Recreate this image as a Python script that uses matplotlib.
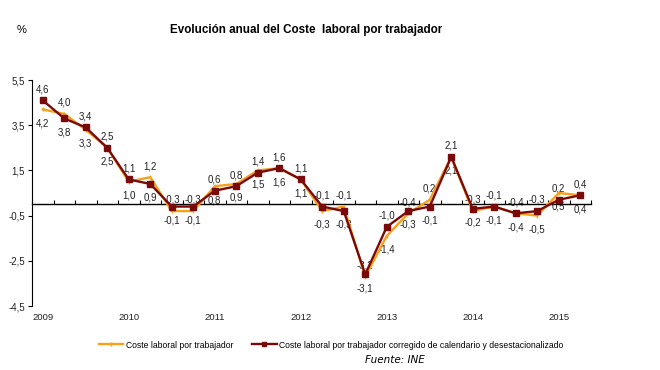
import matplotlib
matplotlib.use("Agg")
import numpy as np
import matplotlib.pyplot as plt

plt.rcParams["font.family"] = ["Liberation Sans", "DejaVu Sans"]

# quarterly annual rates, 2009T1 .. 2015T2
years = ["2009", "2010", "2011", "2012", "2013", "2014", "2015"]
coste_trabajador = [4.2, 4.0, 3.3, 2.5, 1.0, 1.2, -0.3, -0.3, 0.8, 0.9, 1.5, 1.6, 1.1,
                    -0.3, -0.1, -3.2, -1.4, -0.4, 0.2, 2.1, -0.3, -0.1, -0.4, -0.5, 0.5, 0.4]
coste_corregido = [4.6, 3.8, 3.4, 2.5, 1.1, 0.9, -0.1, -0.1, 0.6, 0.8, 1.4, 1.6, 1.1,
                   -0.1, -0.3, -3.1, -1.0, -0.3, -0.1, 2.1, -0.2, -0.1, -0.4, -0.3, 0.2, 0.4]
# +1 label above the orange point, -1 below (the dark series gets the opposite side)
lado_etiqueta = [-1, 1, -1, -1, -1, 1, 1, 1, -1, -1, -1, -1, -1,
                 -1, 1, 1, -1, 1, 1, -1, 1, 1, 1, -1, -1, -1]
yticks = [5.5, 3.5, 1.5, -0.5, -2.5, -4.5]

NARANJA = "#F7A11A"
GRANATE = "#7A0A0A"

fig = plt.figure(figsize=(6.6, 3.7), dpi=100)
ax = fig.add_axes([32 / 660, 1 - 306 / 370, 559 / 660, 226 / 370])

x = np.arange(len(coste_trabajador))
l1, = ax.plot(x, coste_trabajador, color=NARANJA, lw=1.7, marker="|", ms=3,
              mew=1, zorder=3, label="Coste laboral por trabajador")
l2, = ax.plot(x, coste_corregido, color=GRANATE, lw=1.7, marker="s", ms=4,
              zorder=4,
              label="Coste laboral por trabajador corregido de calendario y desestacionalizado")

def fmt(v):
    return f"{v:.1f}".replace(".", ",")

for i in x:
    s = lado_etiqueta[i]
    for v, side in ((coste_trabajador[i], s), (coste_corregido[i], -s)):
        off = 8 if side > 0 else -10
        ax.annotate(fmt(v), (i, v), xytext=(0, off), textcoords="offset points",
                    ha="center", va="center", fontsize=7, color="#222222", zorder=2)

ax.set_xlim(-0.5, len(x) - 0.5)
ax.set_ylim(-4.5, 5.5)
ax.set_yticks(yticks)
ax.set_yticklabels([fmt(t) for t in yticks], fontsize=7, color="#222222")
ax.tick_params(axis="y", length=3, width=0.8, pad=2)

# x axis sits on zero, small inward ticks between quarters
ax.spines["bottom"].set_position(("data", 0))
ax.spines["bottom"].set_linewidth(1.0)
ax.spines["left"].set_linewidth(0.8)
ax.spines["top"].set_visible(False)
ax.spines["right"].set_visible(False)
ax.set_xticks(np.arange(-0.5, len(x), 1))
ax.set_xticklabels([])
ax.tick_params(axis="x", direction="in", length=3, width=0.8)

for k, yr in enumerate(years):
    ax.text(4 * k, -0.053, yr, transform=ax.get_xaxis_transform(),
            ha="center", va="center", fontsize=6.8, color="#222222")

fig.text(0.464, 1 - 30 / 370, "Evolución anual del Coste  laboral por trabajador",
         ha="center", va="center", fontsize=8.4, fontweight="bold")
fig.text(22 / 660, 1 - 30 / 370, "%", ha="center", va="center", fontsize=8)

fig.legend(handles=[l1, l2], loc="center", bbox_to_anchor=(0.502, 1 - 345 / 370),
           ncol=2, frameon=False, fontsize=6.2, handlelength=2.8,
           columnspacing=2.2, handletextpad=0.3, markerscale=0.8)
fig.text(395 / 660, 1 - 360 / 370, "Fuente: INE", ha="center", va="center",
         fontsize=7.5, style="italic", family="DejaVu Sans")

fig.savefig("out.png", dpi=100)
